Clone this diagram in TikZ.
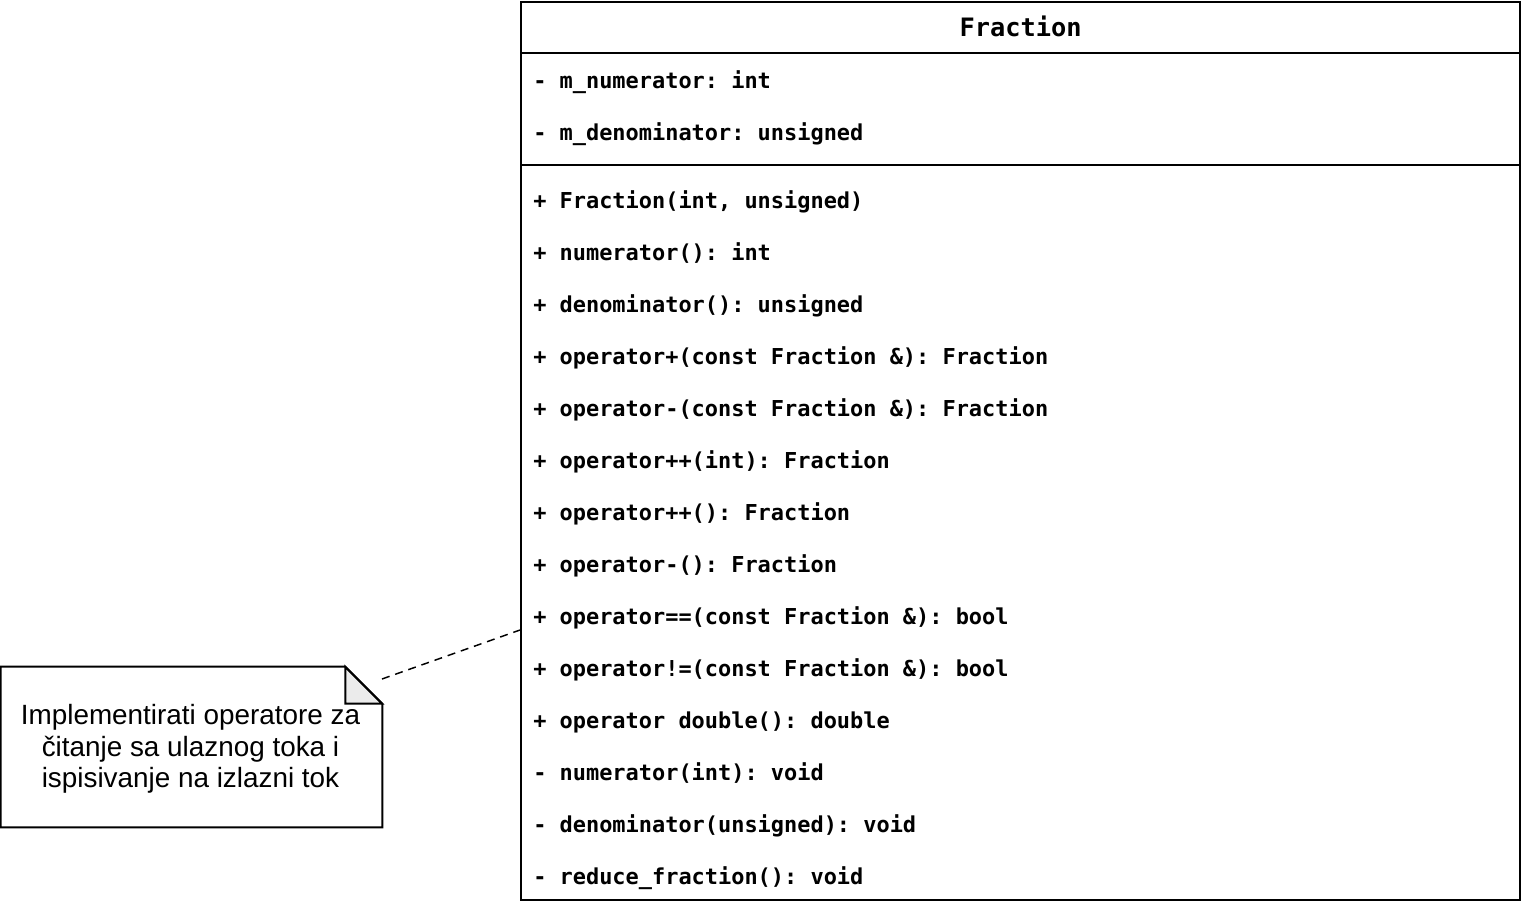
\documentclass[tikz,border=0pt]{standalone}
\usepackage{fontspec}
\setmainfont{Liberation Sans}
\setmonofont{DejaVu Sans Mono}
\usetikzlibrary{positioning}

\tikzset{
  uml/.style={rectangle, draw, line width=1.5pt, inner sep=0pt},
  member/.style={anchor=base west, inner sep=0pt, font=\ttfamily\bfseries\fontsize{16.45}{18}\selectfont},
  classname/.style={anchor=base, inner sep=0pt, font=\ttfamily\bfseries\fontsize{19}{21}\selectfont},
  notetext/.style={align=center, inner sep=0pt, font=\fontsize{20.9}{23.6}\selectfont},
}

\begin{document}
\begin{tikzpicture}[x=0.75pt, y=-0.75pt]
\useasboundingbox (0,0) rectangle (1522,908);

% class box
\node (cls) at (1020.5,451) [uml, minimum width=749.25pt, minimum height=673.5pt] {};
\draw[line width=1.5pt] (cls.west |- 0,53) -- (cls.east |- 0,53);
\draw[line width=1.5pt] (cls.west |- 0,165) -- (cls.east |- 0,165);

\node (name) at (1020.5,36) [classname] {Fraction};

\node (a1) at (533,88) [member] {- m\_numerator: int};
\node (a2) at (533,140) [member] {- m\_denominator: unsigned};

\node (m1) at (533,208) [member] {+ Fraction(int, unsigned)};
\node (m2) at (533,260) [member] {+ numerator(): int};
\node (m3) at (533,312) [member] {+ denominator(): unsigned};
\node (m4) at (533,364) [member] {+ operator+(const Fraction \&): Fraction};
\node (m5) at (533,416) [member] {+ operator-(const Fraction \&): Fraction};
\node (m6) at (533,468) [member] {+ operator++(int): Fraction};
\node (m7) at (533,520) [member] {+ operator++(): Fraction};
\node (m8) at (533,572) [member] {+ operator-(): Fraction};
\node (m9) at (533,624) [member] {+ operator==(const Fraction \&): bool};
\node (m10) at (533,676) [member] {+ operator!=(const Fraction \&): bool};
\node (m11) at (533,728) [member] {+ operator double(): double};
\node (m12) at (533,780) [member] {- numerator(int): void};
\node (m13) at (533,832) [member] {- denominator(unsigned): void};
\node (m14) at (533,884) [member] {- reduce\_fraction(): void};

% note with folded corner
\node (note) at (191.5,747) [minimum width=285.75pt, minimum height=120pt, inner sep=0pt] {};
\filldraw[fill=black!8, line width=1.5pt, line join=miter]
  ([xshift=-27.75pt]note.north east) -- ([yshift=-27.75pt]note.north east)
  -- ([xshift=-27.75pt, yshift=-27.75pt]note.north east) -- cycle;
\draw[line width=1.5pt, line join=miter]
  (note.north west) -- ([xshift=-27.75pt]note.north east)
  -- ([yshift=-27.75pt]note.north east) -- (note.south east)
  -- (note.south west) -- cycle;
\node (txt) at (190.5,749) [notetext] {Implementirati operatore za\\čitanje sa ulaznog toka i\\ispisivanje na izlazni tok};

\coordinate (c1) at (382,679);
\coordinate (c2) at (cls.west |- 0,630);
\draw[line width=1.1pt, dash pattern=on 6pt off 4.45pt] (c1) -- (c2);
\end{tikzpicture}
\end{document}
